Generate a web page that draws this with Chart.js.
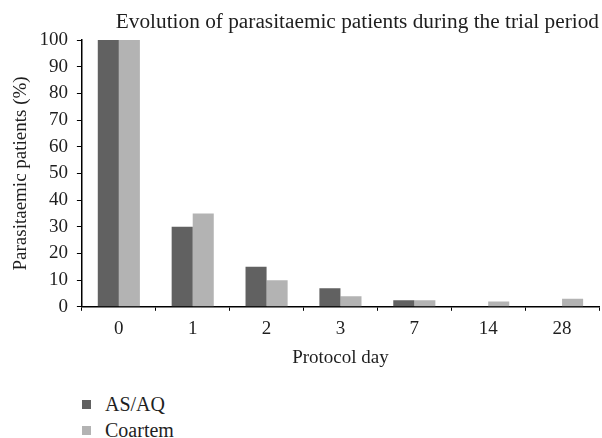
<!DOCTYPE html>
<html>
<head>
<meta charset="utf-8">
<script src="https://cdn.jsdelivr.net/npm/chart.js@4.4.0/dist/chart.umd.min.js"></script>
<style>
  body { margin: 0; background: #fff; font-family: "Liberation Serif", serif; }
  #wrap { position: relative; width: 602px; height: 438px; overflow: hidden; }
  #box { position: absolute; left: 0; top: 0; width: 602px; height: 375px; }
  #legend { position: absolute; left: 82px; top: 391px; font-size: 20px; color: #1e1e1e; }
  #legend div { display: flex; align-items: center; height: 26px; }
  #legend span.sw { display: inline-block; width: 9px; height: 9px; margin-right: 14px; }
</style>
</head>
<body>
<div id="wrap">
  <div id="box"><canvas id="chart"></canvas></div>
  <div id="legend"></div>
</div>
<script>
const days = ["0", "1", "2", "3", "7", "14", "28"];
const asaq = [100, 30, 15, 7, 2.5, 0, 0];
const coartem = [100, 35, 10, 4, 2.5, 2, 3];
const seriesNames = ["AS/AQ", "Coartem"];
const seriesColors = ["#616161", "#b3b3b3"];

const serif = "'Liberation Serif', 'Times New Roman', serif";
const ink = "#1e1e1e";

const ctx = document.getElementById("chart").getContext("2d");

// note: chart.js counts tick padding twice when sizing an axis,
// so the title paddings below look a bit odd
const chart = new Chart(ctx, {
  type: "bar",
  data: {
    labels: days,
    datasets: [
      { label: seriesNames[0], data: asaq, backgroundColor: seriesColors[0] },
      { label: seriesNames[1], data: coartem, backgroundColor: seriesColors[1] },
    ],
  },
  options: {
    responsive: true,
    maintainAspectRatio: false,
    animation: false,
    layout: { padding: { left: 0, right: 3, top: 0, bottom: 0 } },
    datasets: {
      bar: { categoryPercentage: 0.57, barPercentage: 1.0 },
    },
    plugins: {
      legend: { display: false },
      tooltip: { enabled: false },
      title: {
        display: true,
        text: "Evolution of parasitaemic patients during the trial period",
        align: "end",
        color: ink,
        font: { family: serif, size: 21.3, weight: "normal" },
        padding: { top: 10, bottom: 4.5 },
      },
    },
    scales: {
      x: {
        grid: {
          offset: true,
          drawOnChartArea: false,
          color: "#000",
          tickLength: 4,
        },
        border: { color: "#000", width: 1.5 },
        ticks: { color: ink, font: { family: serif, size: 19 }, padding: 7 },
        title: {
          display: true,
          text: "Protocol day",
          color: ink,
          font: { family: serif, size: 19 },
          padding: { top: -1, bottom: 5.6 },
        },
      },
      y: {
        min: 0,
        max: 100,
        ticks: { stepSize: 10, color: ink, font: { family: serif, size: 19 }, padding: 9 },
        grid: {
          drawOnChartArea: false,
          color: "#000",
          tickLength: 5,
        },
        border: { color: "#000", width: 1.5 },
        title: {
          display: true,
          text: "Parasitaemic patients (%)",
          color: ink,
          font: { family: serif, size: 19 },
          padding: { top: 9.6, bottom: -2 },
        },
      },
    },
  },
});

// legend drawn as html, stacked like the original
const legendEl = document.getElementById("legend");
seriesNames.forEach((name, i) => {
  const row = document.createElement("div");
  const sw = document.createElement("span");
  sw.className = "sw";
  sw.style.background = seriesColors[i];
  row.appendChild(sw);
  row.appendChild(document.createTextNode(name));
  legendEl.appendChild(row);
});
</script>
</body>
</html>
